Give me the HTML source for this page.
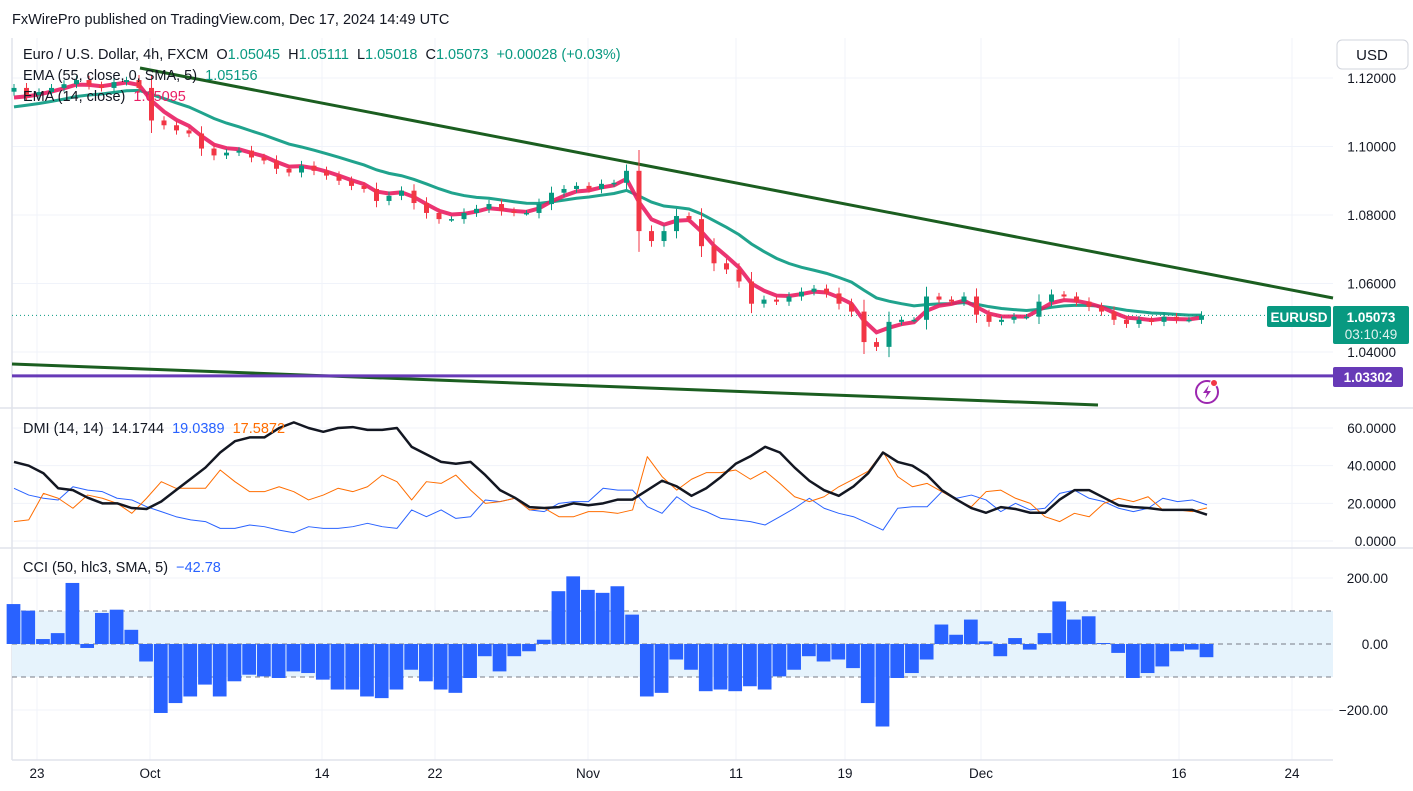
<!DOCTYPE html>
<html><head><meta charset="utf-8"><style>
html,body{margin:0;padding:0;background:#fff;width:1413px;height:791px;overflow:hidden}
svg{display:block;font-family:"Liberation Sans",sans-serif}
text{white-space:pre}
</style></head><body>
<svg id="chart" width="1413" height="791" viewBox="0 0 1413 791" xmlns="http://www.w3.org/2000/svg">
<rect x="0" y="0" width="1413" height="791" fill="#fff"/>
<text x="12" y="24" font-size="14.5" fill="#131722">FxWirePro published on TradingView.com, Dec 17, 2024 14:49 UTC</text>
<g id="grid"></g>
<g id="bands"></g>
<g id="marks"></g>
<g id="labels"></g>
</svg>
<script>
const closes=[1.1171,1.1150,1.1159,1.1171,1.1182,1.1194,1.1179,1.1171,1.1188,1.1194,1.1171,1.1076,1.1062,1.1047,1.1038,1.0994,1.0974,1.0982,1.0988,1.0968,1.0959,1.0935,1.0924,1.0944,1.0929,1.0915,1.0900,1.0885,1.0876,1.0841,1.0856,1.0871,1.0835,1.0806,1.0788,1.0788,1.0806,1.0818,1.0832,1.0812,1.0806,1.0806,1.0832,1.0865,1.0876,1.0885,1.0876,1.0891,1.0894,1.0929,1.0753,1.0724,1.0753,1.0797,1.0788,1.0709,1.0659,1.0641,1.0606,1.0541,1.0553,1.0547,1.0562,1.0576,1.0585,1.0571,1.0541,1.0518,1.0429,1.0415,1.0488,1.0494,1.0494,1.0562,1.0553,1.0547,1.0562,1.0509,1.0488,1.0494,1.0503,1.0503,1.0547,1.0568,1.0562,1.0547,1.0532,1.0518,1.0494,1.0482,1.0494,1.0488,1.0503,1.0494,1.0494,1.0507];
const firstOpen=1.1160;
const emaSeed=[1.1121,1.1107];
const adx=[42,40,36,28,27,23,20,20,17.5,17,21,27,33,39,47,53,55,55,60,63,60,58,60,60.5,59,59,60,50,46,42,41,42,35,27,23,18,17.5,18,20,19,20,
22,22,27,32,29,24,28,34,41,45,50,47,39,32,27,24,29,36,47,42,40,35,27,22,17.5,15,18,17,15,15,22,27,27,23,19,18,17.5,16.5,16.5,16.5,14];
const plusDI=[28,24.4,22.7,21.8,28.8,27,26.2,22.7,21.8,18.2,15.6,12.9,11.2,10.3,6.7,6.7,8.5,7.6,5.8,4.4,7.6,6.7,6.7,7.6,9.4,7.6,6.7,16.5,12.9,16.5,12,12.9,21.8,20.9,22.7,16.5,15.6,20,20.9,20.9,28,
27,27,18.2,14.7,23.5,18.2,15.6,12,11.2,10.3,8.5,12.9,17.4,22.7,17.4,14.7,12.9,9.4,5.8,17.4,18.2,18.2,26.2,22.7,24.4,21.8,15.6,20,16.5,17.4,25.3,27,22.7,20.9,17.4,15.6,17.4,22.7,20.9,21.8,19.2];
const minusDI=[10.3,11.2,25.3,22.7,17.4,24.4,22.7,20,14.7,22.7,31.5,28,28,28,37.7,31.5,26.2,26.2,28.8,26.2,21.8,24.4,28,26.2,28.8,35,31.5,21.8,31.5,30.6,35,27,20,20.9,22.7,16.5,17.4,12.9,12.9,15.6,15.6,
14.7,16.5,44.8,34.2,27,32.8,36.3,36.3,37.7,32.8,37.1,30.6,23.5,20.9,23.5,28.8,32.8,37.1,47.4,34.2,28.8,30.6,26.2,21.8,18.2,26.2,27,22.7,20,12.9,10.3,14.7,12.9,20,22.7,20.9,23.5,16.5,16.5,15.6,17.6];
const cci=[121,101,15,33,185,-12,94,104,43,-53,-209,-179,-159,-123,-159,-113,-93,-98,-103,-83,-88,-108,-138,-138,-159,-164,-138,-78,-113,-138,-148,-103,-37,-83,-37,-22,13,160,205,164,155,
175,89,-159,-148,-47,-78,-143,-138,-143,-128,-138,-98,-78,-37,-53,-47,-73,-179,-250,-103,-88,-47,59,28,74,8,-37,18,-17,33,129,74,84,3,-27,-103,-88,-68,-22,-17,-40];
const priceTicks=[1.12,1.10,1.08,1.06,1.04];
const dmiTicks=[60,40,20,0];
const cciTicks=[200,0,-200];
const dateLabels=["23","Oct","14","22","Nov","11","19","Dec","16","24"];
const dateX=[37,150,322,435,588,736,845,981,1179,1292];

const NS="http://www.w3.org/2000/svg";
function mk(tag,attrs,parent){const e=document.createElementNS(NS,tag);for(const k in attrs)e.setAttribute(k,attrs[k]);parent.appendChild(e);return e;}
const py=p=>78+(1.12-p)*3425;
const cx=i=>14+i*12.5;
const dy=v=>541-v*1.883;
const ix=i=>14+i*(1207-14)/81;
const ccy=v=>644-v*0.33;
const grid=document.getElementById('grid'),marks=document.getElementById('marks'),labels=document.getElementById('labels'),bands=document.getElementById('bands');

priceTicks.forEach(t=>{const l=mk('line',{x1:12,x2:1333,y1:py(t),y2:py(t),stroke:'#f0f3fa'},grid);});
dmiTicks.forEach(t=>{const l=mk('line',{x1:12,x2:1333,y1:dy(t),y2:dy(t),stroke:'#f0f3fa'},grid);});
cciTicks.forEach(t=>{const l=mk('line',{x1:12,x2:1333,y1:ccy(t),y2:ccy(t),stroke:'#f0f3fa'},grid);});
dateX.forEach(x=>{const l=mk('line',{x1:x,x2:x,y1:38,y2:760,stroke:'#f0f3fa'},grid);});
[[12,38,12,760],[0,408,1413,408],[0,548,1413,548],[12,760,1333,760]].forEach(a=>{const l=mk('line',{x1:a[0],y1:a[1],x2:a[2],y2:a[3],stroke:'#e0e3eb','stroke-width':1.5},grid);});

const bd=mk('rect',{x:12,y:ccy(100),width:1321,height:ccy(-100)-ccy(100),fill:'#e6f3fc'},bands);

[100,0,-100].forEach(v=>{const l=mk('line',{x1:12,x2:1333,y1:ccy(v),y2:ccy(v),stroke:'#787b86','stroke-dasharray':'5,4','stroke-width':1},bands);});

const t1=mk('line',{x1:140,y1:68,x2:1333,y2:298,stroke:'#1b5e20','stroke-width':3},marks);
const t2=mk('line',{x1:12,y1:364,x2:1098,y2:405,stroke:'#1b5e20','stroke-width':3},marks);
const hz=mk('line',{x1:12,y1:py(1.03302),x2:1333,y2:py(1.03302),stroke:'#673ab7','stroke-width':3},marks);
const last=closes[closes.length-1];
const cl=mk('line',{x1:12,y1:py(last),x2:1267,y2:py(last),stroke:'#089981','stroke-dasharray':'1,3','stroke-width':1},marks);

function ema(seed,alpha){let e=seed;return closes.map(c=>{e=e+alpha*(c-e);return e;});}
const e55=ema(emaSeed[1],2/14.75),e14=ema(emaSeed[0],2/4.5);
const p55=mk('polyline',{points:e55.map((v,i)=>cx(i)+','+py(v)).join(' '),fill:'none',stroke:'#089981','stroke-width':3,'stroke-opacity':0.9},marks);

const p14=mk('polyline',{points:e14.map((v,i)=>cx(i)+','+py(v)).join(' '),fill:'none',stroke:'#e91e63','stroke-width':4,'stroke-opacity':0.9},marks);


closes.forEach((c,i)=>{
  const o=i===0?firstOpen:closes[i-1];
  const up=c>=o,col=up?'#089981':'#f23645';
  const w=Math.abs(c-o)*0.3+0.0008;
  const hi=Math.max(o,c)+w,lo=Math.min(o,c)-w;
  const g=mk('g',{},marks);
  
  
  mk('line',{x1:cx(i),x2:cx(i),y1:py(hi),y2:py(lo),stroke:col,'stroke-width':1},g);
  const top=py(Math.max(o,c)),h=Math.max(1.5,py(Math.min(o,c))-top);
  mk('rect',{x:cx(i)-2.5,y:top,width:5,height:h,fill:col},g);
});

function line(arr,col,wd,name){const p=mk('polyline',{points:arr.map((v,i)=>ix(i)+','+dy(v)).join(' '),fill:'none',stroke:col,'stroke-width':wd,'stroke-linejoin':'round'},marks);}
line(plusDI,'#2962ff',1,'plus-di-line');
line(minusDI,'#ff6d00',1,'minus-di-line');
line(adx,'#131722',2.5,'adx-line');

const bw=(1207-14)/81;
cci.forEach((v,i)=>{const y0=ccy(0),y1=ccy(v);const r=mk('rect',{x:ix(i)-bw/2,y:Math.min(y0,y1),width:bw-1,height:Math.abs(y1-y0),fill:'#2962ff'},marks);});

function txt(x,y,s,col,size,anchor,name){const t=mk('text',{x:x,y:y,fill:col,'font-size':size,'text-anchor':anchor||'start'},labels);t.textContent=s;return t;}
priceTicks.forEach(t=>txt(1396,py(t)+5,t.toFixed(5),'#131722',13.5,'end','price-tick-label'));
dmiTicks.forEach(t=>txt(1396,dy(t)+5,t.toFixed(4),'#131722',13.5,'end','dmi-tick-label'));
cciTicks.forEach(t=>txt(1388,ccy(t)+5,(t<0?'−':'')+Math.abs(t).toFixed(2),'#131722',13.5,'end','cci-tick-label'));
dateLabels.forEach((s,i)=>txt(dateX[i],778,s,'#131722',13.5,'middle','date-label'));
</script>
<svg style="position:absolute;left:0;top:0" width="1413" height="791">
<g font-family="Liberation Sans, sans-serif" font-size="14.5">
<text x="23" y="59" fill="#131722">Euro / U.S. Dollar, 4h, FXCM  O<tspan fill="#089981">1.05045</tspan>  H<tspan fill="#089981">1.05111</tspan>  L<tspan fill="#089981">1.05018</tspan>  C<tspan fill="#089981">1.05073</tspan>  <tspan fill="#089981">+0.00028 (+0.03%)</tspan></text>
<text x="23" y="80" fill="#131722">EMA (55, close, 0, SMA, 5)  <tspan fill="#089981">1.05156</tspan></text>
<text x="23" y="101" fill="#131722">EMA (14, close)  <tspan fill="#e91e63">1.05095</tspan></text>
<text x="23" y="433" fill="#131722">DMI (14, 14)  14.1744  <tspan fill="#2962ff">19.0389</tspan>  <tspan fill="#ff6d00">17.5872</tspan></text>
<text x="23" y="572" fill="#131722">CCI (50, hlc3, SMA, 5)  <tspan fill="#2962ff">−42.78</tspan></text>
</g>
<g><rect x="1337" y="40" width="71" height="29" rx="5" fill="#fff" stroke="#d1d4dc"/><text x="1372" y="60" text-anchor="middle" font-family="Liberation Sans, sans-serif" font-size="15" fill="#131722">USD</text></g>
<g><rect x="1267" y="306" width="64" height="21" rx="2" fill="#089981"/><text x="1299" y="322" text-anchor="middle" font-family="Liberation Sans, sans-serif" font-size="13.5" fill="#fff" font-weight="bold">EURUSD</text></g>
<g><rect x="1333" y="306" width="76" height="38" rx="2" fill="#089981"/><text x="1371" y="322" text-anchor="middle" font-family="Liberation Sans, sans-serif" font-size="13.5" fill="#fff" font-weight="bold">1.05073</text><text x="1371" y="339" text-anchor="middle" font-family="Liberation Sans, sans-serif" font-size="13.5" fill="#e0f2ef">03:10:49</text></g>
<g><rect x="1333" y="367" width="70" height="20" rx="2" fill="#673ab7"/><text x="1368" y="382" text-anchor="middle" font-family="Liberation Sans, sans-serif" font-size="13.5" fill="#fff" font-weight="bold">1.03302</text></g>
<g><circle cx="1207" cy="392" r="11" fill="#fff" stroke="#9c27b0" stroke-width="2"/><path d="M1209 385 L1203 393 L1207 393 L1205 399 L1211 391 L1207 391 Z" fill="#9c27b0"/><circle cx="1214" cy="383" r="3.5" fill="#f23645" stroke="#fff"/></g>
</svg>
</body></html>
